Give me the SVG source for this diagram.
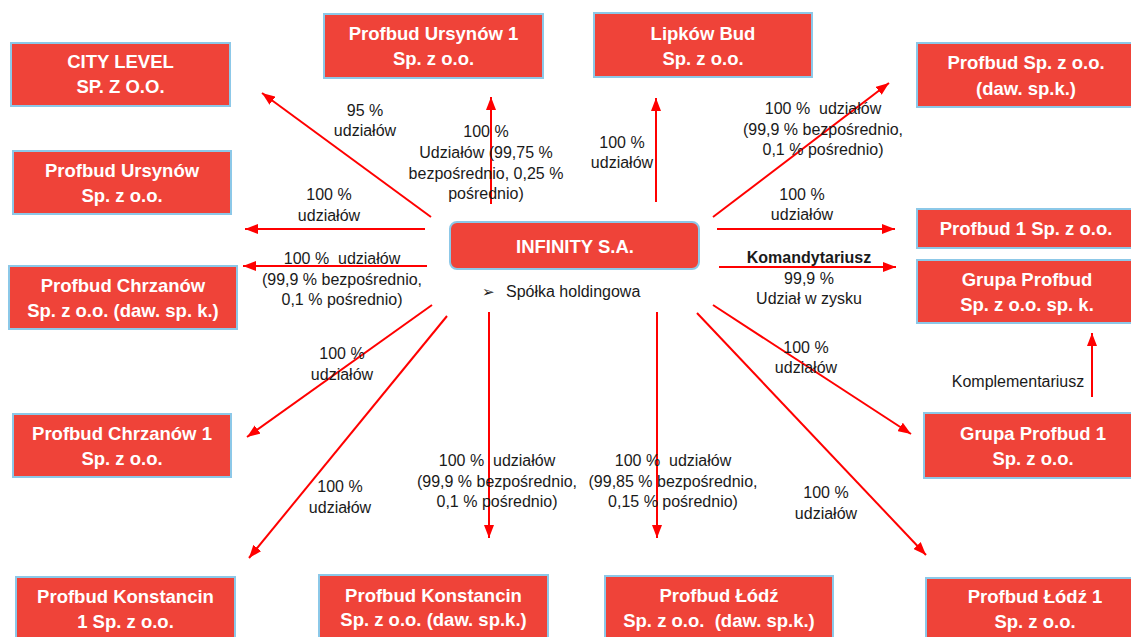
<svg xmlns="http://www.w3.org/2000/svg" width="1131" height="637" viewBox="0 0 1131 637">
<style>
.box{fill:#EF4339;stroke:#8CC8E8;stroke-width:2}
.bt{font-family:"Liberation Sans",Arial,sans-serif;font-weight:bold;font-size:18.5px;fill:#fff;text-anchor:middle}
.lb{font-family:"Liberation Sans",Arial,sans-serif;font-size:16px;fill:#1a1a1a;text-anchor:middle}
.ar{stroke:#FF0000;stroke-width:2;fill:none;marker-end:url(#ah)}
</style>
<defs>
<marker id="ah" markerUnits="userSpaceOnUse" viewBox="0 0 13 10" markerWidth="13" markerHeight="10" refX="13" refY="5" orient="auto">
<path d="M0,0 L13,5 L0,10 z" fill="#FF0000"/>
</marker>
</defs>
<rect width="1131" height="637" fill="#fff"/>

<g id="connectors">
<line class="ar" x1="431" y1="217" x2="262" y2="93"/>
<line class="ar" x1="425" y1="229" x2="245" y2="229"/>
<line class="ar" x1="491" y1="204" x2="491" y2="97"/>
<line class="ar" x1="656" y1="202" x2="656" y2="98"/>
<line class="ar" x1="713" y1="217" x2="889" y2="83"/>
<line class="ar" x1="717" y1="229" x2="895" y2="229"/>
<line class="ar" x1="719" y1="267" x2="896" y2="267"/>
<line class="ar" x1="427" y1="266" x2="243" y2="266"/>
<line class="ar" x1="432" y1="305" x2="247" y2="437"/>
<line class="ar" x1="447" y1="316" x2="249" y2="558"/>
<line class="ar" x1="489" y1="312" x2="489" y2="538"/>
<line class="ar" x1="657" y1="312" x2="657" y2="538"/>
<line class="ar" x1="697" y1="313" x2="926" y2="555"/>
<line class="ar" x1="713" y1="305" x2="911" y2="434"/>
<line class="ar" x1="1092" y1="397" x2="1092" y2="333"/>
</g>

<g id="labels">
<text class="lb" x="365" y="116">95 %</text>
<text class="lb" x="365" y="136">udziałów</text>
<text class="lb" x="486" y="137">100 %</text>
<text class="lb" x="486" y="158">Udziałów (99,75 %</text>
<text class="lb" x="486" y="179">bezpośrednio, 0,25 %</text>
<text class="lb" x="486" y="199">pośrednio)</text>
<text class="lb" x="622" y="148">100 %</text>
<text class="lb" x="622" y="168">udziałów</text>
<text class="lb" x="823" y="114">100 %&#160; udziałów</text>
<text class="lb" x="823" y="135">(99,9 % bezpośrednio,</text>
<text class="lb" x="823" y="155">0,1 % pośrednio)</text>
<text class="lb" x="802" y="200">100 %</text>
<text class="lb" x="802" y="220">udziałów</text>
<text class="lb" x="329" y="200">100 %</text>
<text class="lb" x="329" y="221">udziałów</text>
<text class="lb" x="342" y="264">100 %&#160; udziałów</text>
<text class="lb" x="342" y="285">(99,9 % bezpośrednio,</text>
<text class="lb" x="342" y="305">0,1 % pośrednio)</text>
<text class="lb" x="809" y="263" font-weight="bold" font-size="14.5">Komandytariusz</text>
<text class="lb" x="809" y="284">99,9 %</text>
<text class="lb" x="809" y="304">Udział w zysku</text>
<text class="lb" x="342" y="359">100 %</text>
<text class="lb" x="342" y="380">udziałów</text>
<text class="lb" x="806" y="353">100 %</text>
<text class="lb" x="806" y="373">udziałów</text>
<text class="lb" x="1018" y="387">Komplementariusz</text>
<text class="lb" x="340" y="492">100 %</text>
<text class="lb" x="340" y="513">udziałów</text>
<text class="lb" x="497" y="466">100 %&#160; udziałów</text>
<text class="lb" x="497" y="487">(99,9 % bezpośrednio,</text>
<text class="lb" x="497" y="507">0,1 % pośrednio)</text>
<text class="lb" x="673" y="466">100 %&#160; udziałów</text>
<text class="lb" x="673" y="487">(99,85 % bezpośrednio,</text>
<text class="lb" x="673" y="507">0,15 % pośrednio)</text>
<text class="lb" x="826" y="498">100 %</text>
<text class="lb" x="826" y="519">udziałów</text>
</g>

<g id="infinity">
<rect x="450" y="222" width="249" height="47" rx="7" class="box"/>
<text class="bt" x="575" y="253" font-size="21">INFINITY S.A.</text>
<text x="482" y="297" font-family="DejaVu Sans,sans-serif" font-size="15" fill="#1a1a1a">➢</text>
<text x="506" y="297" font-family="Liberation Sans,Arial,sans-serif" font-size="16" fill="#1a1a1a">Spółka holdingowa</text>
</g>

<g id="city-level">
<rect x="11" y="43" width="219" height="63" class="box"/>
<text class="bt" x="120.5" y="68">CITY LEVEL</text>
<text class="bt" x="120.5" y="93">SP. Z O.O.</text>
</g>
<g id="profbud-ursynow">
<rect x="13" y="151" width="218" height="63" class="box"/>
<text class="bt" x="122" y="177">Profbud Ursynów</text>
<text class="bt" x="122" y="202">Sp. z o.o.</text>
</g>
<g id="profbud-ursynow-1">
<rect x="324" y="14" width="219" height="64" class="box"/>
<text class="bt" x="433.5" y="40">Profbud Ursynów 1</text>
<text class="bt" x="433.5" y="65">Sp. z o.o.</text>
</g>
<g id="lipkow-bud">
<rect x="594" y="13" width="218" height="64" class="box"/>
<text class="bt" x="703" y="40">Lipków Bud</text>
<text class="bt" x="703" y="65">Sp. z o.o.</text>
</g>
<g id="profbud-sp">
<rect x="917" y="43" width="218" height="64" class="box"/>
<text class="bt" x="1026" y="69">Profbud Sp. z o.o.</text>
<text class="bt" x="1026" y="95">(daw. sp.k.)</text>
</g>
<g id="profbud-1">
<rect x="917" y="209" width="218" height="39" class="box"/>
<text class="bt" x="1026" y="235">Profbud 1 Sp. z o.o.</text>
</g>
<g id="grupa-profbud">
<rect x="917" y="260" width="218" height="63" class="box"/>
<text class="bt" x="1027" y="286">Grupa Profbud</text>
<text class="bt" x="1027" y="311">Sp. z o.o. sp. k.</text>
</g>
<g id="grupa-profbud-1">
<rect x="924" y="413" width="211" height="65" class="box"/>
<text class="bt" x="1033" y="440">Grupa Profbud 1</text>
<text class="bt" x="1033" y="465">Sp. z o.o.</text>
</g>
<g id="profbud-lodz-1">
<rect x="926" y="578" width="209" height="70" class="box"/>
<text class="bt" x="1035" y="603">Profbud Łódź 1</text>
<text class="bt" x="1035" y="628">Sp. z o.o.</text>
</g>
<g id="profbud-lodz">
<rect x="605" y="576" width="228" height="70" class="box"/>
<text class="bt" x="719" y="602">Profbud Łódź</text>
<text class="bt" x="719" y="627">Sp. z o.o.&#160; (daw. sp.k.)</text>
</g>
<g id="profbud-konstancin">
<rect x="319" y="575" width="229" height="70" class="box"/>
<text class="bt" x="433.5" y="602">Profbud Konstancin</text>
<text class="bt" x="433.5" y="626">Sp. z o.o. (daw. sp.k.)</text>
</g>
<g id="profbud-konstancin-1">
<rect x="16" y="577" width="219" height="70" class="box"/>
<text class="bt" x="125.5" y="603">Profbud Konstancin</text>
<text class="bt" x="125.5" y="628">1 Sp. z o.o.</text>
</g>
<g id="profbud-chrzanow-1">
<rect x="13" y="414" width="218" height="63" class="box"/>
<text class="bt" x="122" y="440">Profbud Chrzanów 1</text>
<text class="bt" x="122" y="465">Sp. z o.o.</text>
</g>
<g id="profbud-chrzanow">
<rect x="9" y="266" width="228" height="63" class="box"/>
<text class="bt" x="123" y="292">Profbud Chrzanów</text>
<text class="bt" x="123" y="317">Sp. z o.o. (daw. sp. k.)</text>
</g>
</svg>
